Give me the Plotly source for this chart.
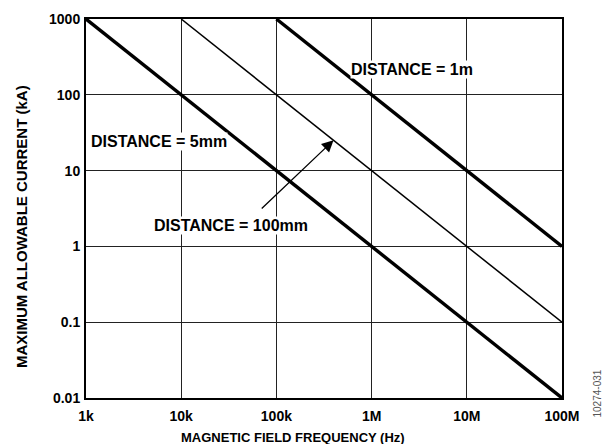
import plotly.graph_objects as go

# Maximum allowable current vs magnetic field frequency, per distance
freq_5mm = [1e3, 1e8]
current_5mm = [1000, 0.01]
freq_100mm = [1e4, 1e8]
current_100mm = [1000, 0.1]
freq_1m = [1e5, 1e8]
current_1m = [1000, 1]

x_tickvals = [1e3, 1e4, 1e5, 1e6, 1e7, 1e8]
x_ticktext = ["1k", "10k", "100k", "1M", "10M", "100M"]
y_tickvals = [0.01, 0.1, 1, 10, 100, 1000]
y_ticktext = ["0.01", "0.1", "1", "10", "100", "1000"]

FONT = "Liberation Sans, Arial, sans-serif"

fig = go.Figure()
fig.add_trace(go.Scatter(x=freq_5mm, y=current_5mm, mode="lines",
                         line=dict(color="black", width=3.4), showlegend=False))
fig.add_trace(go.Scatter(x=freq_100mm, y=current_100mm, mode="lines",
                         line=dict(color="black", width=1.5), showlegend=False))
fig.add_trace(go.Scatter(x=freq_1m, y=current_1m, mode="lines",
                         line=dict(color="black", width=3.4), showlegend=False))

axis_common = dict(
    type="log", showgrid=True, gridcolor="#222", gridwidth=1.3,
    showline=True, linecolor="black", linewidth=2, mirror=True,
    ticks="", zeroline=False,
    tickfont=dict(family=FONT, size=14, color="black", weight="bold"),
)

fig.update_xaxes(range=[3, 8], tickvals=x_tickvals, ticktext=x_ticktext,
                 ticklabelstandoff=4, **axis_common)
fig.update_yaxes(range=[-2, 3], tickvals=y_tickvals, ticktext=y_ticktext,
                 ticklabelstandoff=1, **axis_common)

# axis titles
fig.add_annotation(x=0.435, y=0, xref="paper", yref="paper", yshift=-39,
                   text="MAGNETIC FIELD FREQUENCY (Hz)", showarrow=False,
                   yanchor="middle",
                   font=dict(family=FONT, size=13, color="black", weight="bold"))
fig.add_annotation(x=0, y=0.451, xref="paper", yref="paper", xshift=-65,
                   text="MAXIMUM ALLOWABLE CURRENT (kA)", showarrow=False,
                   textangle=-90, xanchor="center",
                   font=dict(family=FONT, size=15, color="black", weight="bold"))

label_font = dict(family=FONT, size=16, color="black", weight="bold")
fig.add_annotation(x=6.42, y=2.34, text="DISTANCE = 1m", showarrow=False,
                   font=label_font, bgcolor="white", borderpad=0)
fig.add_annotation(x=3.04, y=1.39, text="DISTANCE = 5mm", showarrow=False,
                   xanchor="left", font=label_font, bgcolor="white", borderpad=0)
fig.add_annotation(x=3.705, y=0.28, text="DISTANCE = 100mm", showarrow=False,
                   xanchor="left", font=label_font, bgcolor="white", borderpad=0)
fig.add_annotation(x=5.6, y=1.4, ax=4.83, ay=0.48, axref="x", ayref="y",
                   xref="x", yref="y", text="", showarrow=True,
                   arrowhead=2, arrowsize=1.8, arrowwidth=1.3, arrowcolor="black")
fig.add_annotation(x=1.0, y=0.0, xref="paper", yref="paper", xshift=42, yshift=-22,
                   text="10274-031", textangle=-90, showarrow=False,
                   font=dict(family=FONT, size=10, color="#555"))

fig.update_layout(
    width=608, height=444,
    margin=dict(l=86, r=46, t=19, b=46),
    paper_bgcolor="white", plot_bgcolor="white",
)

fig.write_html("out.html")
